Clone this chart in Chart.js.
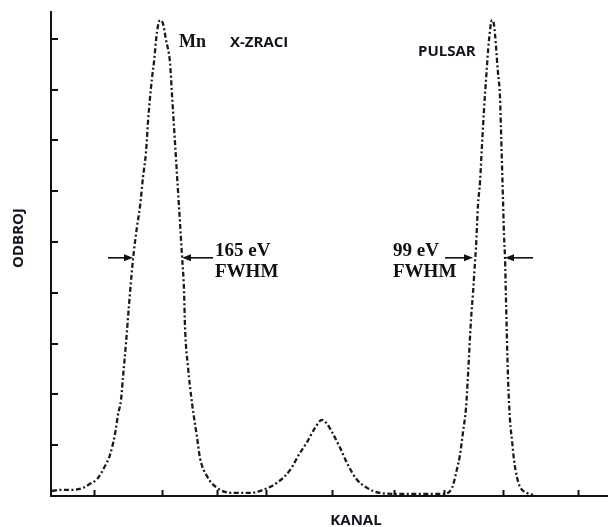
<!DOCTYPE html>
<html>
<head>
<meta charset="utf-8">
<script src="https://cdn.jsdelivr.net/npm/chart.js@4"></script>
<style>
html,body{margin:0;padding:0;background:#fff;}
#wrap{width:608px;height:527px;position:relative;}
</style>
</head>
<body>
<div id="wrap"><canvas id="c" width="608" height="527"></canvas></div>
<script>
// ---- data ----
const kanal = [1,9,19,32,39,46,54,59,64,67,70,72,75,78,81,83,86,89,92,95,97,99,101,103,106,109,112,115,119,121,123,125,127,129,131,133,134,137,141,146,149,156,166,182,199,212,226,239,249,256,264,271,276,281,289,297,306,316,329,349,369,392,401,406,409,412,415,417,420,422,424,425,427,429,431,433,435,438,441,443,447,449,450,451,452,453,454,455,457,459,461,463,466,469,476,482];
const odbroj = [0.10,0.12,0.12,0.16,0.24,0.33,0.59,0.81,1.22,1.60,1.89,2.34,3.01,3.76,4.45,4.84,5.30,5.70,6.28,6.77,7.37,7.84,8.23,8.55,9.14,9.37,9.30,8.98,8.53,7.90,7.27,6.64,6.01,5.38,4.73,4.06,3.33,2.54,1.83,1.16,0.75,0.39,0.16,0.06,0.06,0.12,0.26,0.51,0.85,1.06,1.34,1.50,1.42,1.26,0.95,0.61,0.32,0.16,0.06,0.04,0.04,0.04,0.16,0.53,0.81,1.26,1.73,2.38,3.47,4.00,4.61,4.90,5.73,6.18,6.91,7.60,8.19,8.98,9.37,9.28,8.33,7.86,7.21,6.52,5.83,5.14,4.69,3.86,2.34,1.50,1.10,0.71,0.37,0.18,0.06,0.02];
const xTickValues = [43,111,166,215,281,343,393,452,527];
const yTickValues = [1,2,3,4,5,6,7,8,9];
const xAxisTitle = 'KANAL';
const yAxisTitle = 'ODBROJ';
const peakNames = ['Mn','X-ZRACI','PULSAR'];
const fwhmTexts = [['165 eV','FWHM'],['99 eV','FWHM']];
const halfMax = 4.69;
const fwhmEdges = [[82,131],[422,454]];   // channels where the peaks cross half maximum
const fwhmTails = [[57,162],[394,482]];   // where the arrows start
const xMax = 557, yMax = 9.53;

const annotations = {
  id: 'annotations',
  afterDraw(chart) {
    const {ctx, chartArea: a, scales: {x, y}} = chart;
    ctx.save();
    ctx.strokeStyle = '#111';
    ctx.fillStyle = '#111';
    // inward tick marks
    ctx.lineWidth = 2;
    ctx.beginPath();
    yTickValues.forEach(v => {
      const py = Math.round(y.getPixelForValue(v));
      ctx.moveTo(a.left, py); ctx.lineTo(a.left + 7, py);
    });
    xTickValues.forEach(v => {
      const px = Math.round(x.getPixelForValue(v)) + 0.5;
      ctx.moveTo(px, a.bottom); ctx.lineTo(px, a.bottom - 6);
    });
    ctx.stroke();

    // FWHM arrows
    const arrow = (fromV, toV) => {
      const py = y.getPixelForValue(halfMax);
      const x1 = x.getPixelForValue(fromV), x2 = x.getPixelForValue(toV);
      const dir = Math.sign(x2 - x1);
      const head = 9;
      ctx.lineWidth = 1.6;
      ctx.beginPath();
      ctx.moveTo(x1, py); ctx.lineTo(x2 - dir * head, py);
      ctx.stroke();
      ctx.beginPath();
      ctx.moveTo(x2, py);
      ctx.lineTo(x2 - dir * head, py - 3.5);
      ctx.lineTo(x2 - dir * head, py + 3.5);
      ctx.closePath();
      ctx.fill();
    };
    fwhmEdges.forEach((e, i) => {
      arrow(fwhmTails[i][0], e[0]);
      arrow(fwhmTails[i][1], e[1]);
    });

    // serif labels
    ctx.textBaseline = 'alphabetic';
    ctx.textAlign = 'left';
    ctx.font = 'bold 18px "Liberation Serif", "DejaVu Serif", serif';
    ctx.fillText(peakNames[0], 179, 47);
    ctx.font = 'bold 19px "Liberation Serif", "DejaVu Serif", serif';
    ctx.fillText(fwhmTexts[0][0], 215, 256);
    ctx.fillText(fwhmTexts[0][1], 215, 277);
    ctx.fillText(fwhmTexts[1][0], 393, 256);
    ctx.fillText(fwhmTexts[1][1], 393, 277);

    // sans labels
    ctx.fillStyle = '#141420';
    ctx.font = 'bold 15px "Open Sans", "Liberation Sans", sans-serif';
    ctx.fillText(peakNames[1], 230, 47);
    ctx.fillText(peakNames[2], 418, 56);
    ctx.textAlign = 'center';
    ctx.fillText(xAxisTitle, 356, 525);
    ctx.save();
    ctx.translate(23, 238);
    ctx.rotate(-Math.PI / 2);
    ctx.fillText(yAxisTitle, 0, 0);
    ctx.restore();
    ctx.restore();
  }
};

new Chart(document.getElementById('c'), {
  type: 'line',
  data: {
    datasets: [{
      data: kanal.map((k, i) => ({x: k, y: odbroj[i]})),
      borderColor: '#1a1a1a',
      borderWidth: 2.3,
      borderDash: [5, 2.5, 2, 2.5],
      pointRadius: 0,
      cubicInterpolationMode: 'monotone',
      fill: false
    }]
  },
  options: {
    responsive: false,
    animation: false,
    events: [],
    layout: {padding: {left: 51, top: 12, right: 0, bottom: 31}},
    plugins: {legend: {display: false}, tooltip: {enabled: false}},
    scales: {
      x: {
        type: 'linear', min: 0, max: xMax,
        grid: {display: false, drawTicks: false},
        border: {display: true, color: '#111', width: 2},
        ticks: {display: false},
        afterBuildTicks: s => { s.ticks = xTickValues.map(v => ({value: v})); }
      },
      y: {
        type: 'linear', min: 0, max: yMax,
        grid: {display: false, drawTicks: false},
        border: {display: true, color: '#111', width: 2},
        ticks: {display: false},
        afterBuildTicks: s => { s.ticks = yTickValues.map(v => ({value: v})); }
      }
    }
  },
  plugins: [annotations]
});
</script>
</body>
</html>
